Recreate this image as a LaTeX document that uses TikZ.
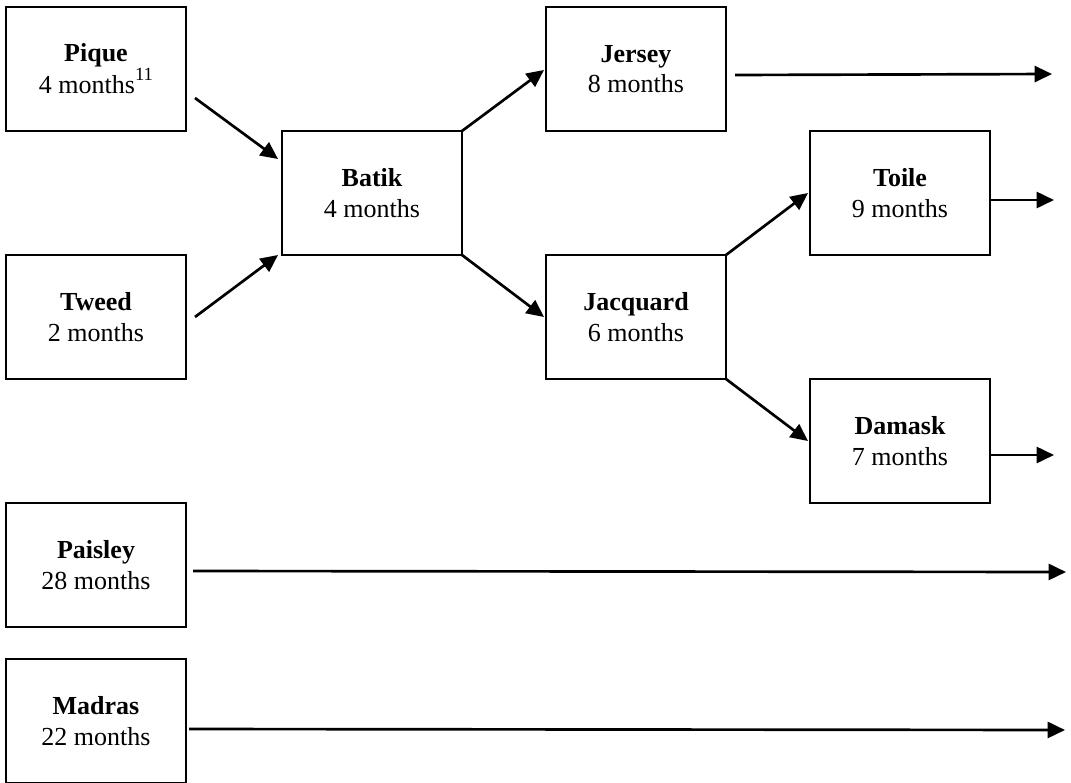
\documentclass[tikz,border=0pt]{standalone}
\usepackage{fontspec}
\setmainfont{Liberation Serif}
\usetikzlibrary{arrows.meta,calc}
\begin{document}
\begin{tikzpicture}[x=0.75pt,y=-0.75pt,
  fabric/.style={draw, line width=1.6pt, minimum width=135pt, minimum height=93pt,
    inner sep=0pt, outer sep=0pt, align=center, font=\fontsize{19.5}{23}\selectfont},
  flow/.style={line width=2pt, -{Triangle[length=13pt,width=12pt]}}]
\useasboundingbox (0,0) rectangle (1071,782);
\node[fabric] (pique) at (96,69) {\textbf{Pique}\\4 months\raisebox{0.5em}{\fontsize{14}{14}\selectfont 11}};
\node[fabric] (batik) at (372,193) {\textbf{Batik}\\4 months};
\node[fabric] (tweed) at (96,317) {\textbf{Tweed}\\2 months};
\node[fabric] (jersey) at (636,69) {\textbf{Jersey}\\8 months};
\node[fabric] (jacquard) at (636,317) {\textbf{Jacquard}\\6 months};
\node[fabric] (toile) at (900,193) {\textbf{Toile}\\9 months};
\node[fabric] (damask) at (900,441) {\textbf{Damask}\\7 months};
\node[fabric] (paisley) at (96,565) {\textbf{Paisley}\\28 months};
\node[fabric] (madras) at (96,721) {\textbf{Madras}\\22 months};
\coordinate (jerseyend) at (1052,74);
\coordinate (toileend) at (1054,200);
\coordinate (damaskend) at (1054,455);
\coordinate (paisleyend) at (1066,572);
\coordinate (madrasend) at (1065,730);
\draw[flow] ($(pique.east)+(9,29)$) -- ($(batik.north west)+(-4,28)$);
\draw[flow] ($(tweed.east)+(9,0)$) -- ($(batik.south west)+(-4,0)$);
\draw[flow] (batik.north east) -- ($(jersey.west)+(-2,1)$);
\draw[flow] (batik.south east) -- ($(jacquard.west)+(-2,0)$);
\draw[flow] (jacquard.north east) -- ($(toile.west)+(-2,0)$);
\draw[flow] (jacquard.south east) -- ($(damask.west)+(-2,0)$);
\draw[flow] ($(jersey.east)+(9,6)$) -- (jerseyend);
\draw[flow] ($(toile.east)+(0,7)$) -- (toileend);
\draw[flow] ($(damask.east)+(0,14)$) -- (damaskend);
\draw[flow] ($(paisley.east)+(7,6)$) -- (paisleyend);
\draw[flow] ($(madras.east)+(3,8)$) -- (madrasend);
\end{tikzpicture}
\end{document}
